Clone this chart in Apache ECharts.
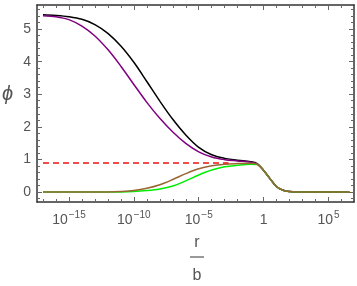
<!DOCTYPE html>
<html>
<head>
<meta charset="utf-8">
<script src="https://cdn.jsdelivr.net/npm/echarts@6/dist/echarts.min.js"></script>
<style>html,body{margin:0;padding:0;background:#fff;}#c{width:357px;height:286px;}</style>
</head>
<body>
<div id="c"></div>
<script>
// x values are log10(r/b)
const logR = [-17,-16,-15,-14,-13,-12,-11,-10,-9,-8,-7,-6,-5,-4,-3,-2,-1,-0.5,0,0.5,1,1.5,2,2.5,3,4,5,6,6.6];
const phiBlack  = [5.44,5.42,5.38,5.30,5.14,4.87,4.48,3.98,3.39,2.79,2.23,1.75,1.37,1.14,1.03,0.97,0.93,0.87,0.66,0.4,0.16,0.05,0.01,0,0,0,0,0,0];
const phiPurple = [5.41,5.38,5.29,5.09,4.79,4.37,3.86,3.30,2.75,2.26,1.84,1.49,1.23,1.07,0.99,0.95,0.91,0.86,0.66,0.4,0.16,0.05,0.01,0,0,0,0,0,0];
const phiGreen  = [0,0,0,0,0,0,0,0.01,0.04,0.09,0.18,0.34,0.52,0.67,0.77,0.82,0.85,0.84,0.66,0.4,0.16,0.05,0.01,0,0,0,0,0,0];
const phiBrown  = [0,0,0,0,0,0,0.01,0.04,0.11,0.22,0.38,0.56,0.71,0.80,0.85,0.87,0.88,0.85,0.66,0.4,0.16,0.05,0.01,0,0,0,0,0,0];
const refLogR = [-17, -2.7];
const refPhi = [0.89, 0.89];

const xMajor = [-15,-10,-5,0,5];
const xMinor = [-17,-16,-14,-13,-12,-11,-9,-8,-7,-6,-4,-3,-2,-1,1,2,3,4,6,7];
const yMajor = [0,1,2,3,4,5];
const yMinor = [-0.2,0.2,0.4,0.6,0.8,1.2,1.4,1.6,1.8,2.2,2.4,2.6,2.8,3.2,3.4,3.6,3.8,4.2,4.4,4.6,4.8,5.2,5.4,5.6];

const XMIN = -17.46, XMAX = 6.96, YMIN = -0.31, YMAX = 5.74;
const FONT = 'Liberation Sans, Arial, sans-serif';
const LBL = '#555';
const FRAME = '#333';

function zip(xs, ys){ return xs.map((x,i)=>[x, ys[i]]); }

function xAx(pos, major, label){
  return {
    type:'value', min:XMIN, max:XMAX, position:pos, gridIndex:0,
    axisLine:{show:major, onZero:false, lineStyle:{color:FRAME, width:1.5}},
    axisTick:{show:true, inside:true, length: major?5:3, customValues: major?xMajor:xMinor, lineStyle:{color:'#666', width:1}},
    axisLabel:{show:label, customValues:xMajor, margin:8, color:LBL, fontFamily:FONT,
      formatter: v => v===0 ? '{b|1}' : '{b|10}{s|' + (v<0?'\u2212':'') + Math.abs(v) + '}',
      rich:{ b:{fontSize:14, fontFamily:FONT, color:LBL, lineHeight:20},
             s:{fontSize:10, fontFamily:FONT, color:LBL, lineHeight:20, padding:[0,0,10,1]} }},
    splitLine:{show:false}
  };
}
function yAx(pos, major, label){
  return {
    type:'value', min:YMIN, max:YMAX, position:pos, gridIndex:0,
    axisLine:{show:major, onZero:false, lineStyle:{color:FRAME, width:1.5}},
    axisTick:{show:true, inside:true, length: major?5:3, customValues: major?yMajor:yMinor, lineStyle:{color:'#666', width:1}},
    axisLabel:{show:label, customValues:yMajor, margin:6, color:LBL, fontFamily:FONT, fontSize:14},
    splitLine:{show:false}
  };
}

const chart = echarts.init(document.getElementById('c'), null, {renderer:'canvas'});
function line(name, ys, color, xs){
  return { name, type:'line', xAxisIndex:0, yAxisIndex:0, data: zip(xs||logR, ys), showSymbol:false,
    smooth:0.35, lineStyle:{color, width:1.5}, itemStyle:{color}, animation:false };
}
chart.setOption({
  animation:false,
  grid:{left:37, right:3, top:5, bottom:84, containLabel:false},
  xAxis:[ xAx('bottom', true, true), xAx('bottom', false, false), xAx('top', true, false), xAx('top', false, false) ],
  yAxis:[ yAx('left', true, true), yAx('left', false, false), yAx('right', true, false), yAx('right', false, false) ],
  series:[
    line('black', phiBlack, '#000000'),
    line('purple', phiPurple, '#800080'),
    line('green', phiGreen, '#00ee00'),
    line('brown', phiBrown, '#996633'),
    { name:'ref', type:'line', data: zip(refLogR, refPhi), showSymbol:false, z:5,
      lineStyle:{color:'#ee1111', width:1.5, type:[6,4]}, animation:false }
  ],
  graphic:[
    { type:'text', left:2, top:84, style:{ text:'\u03D5', font:'italic 20px ' + FONT, fill:LBL } },
    { type:'text', x:197, y:243, style:{ text:'r', font:'16px ' + FONT, fill:LBL, align:'center', verticalAlign:'middle' } },
    { type:'line', shape:{x1:190, y1:257, x2:204, y2:257}, style:{stroke:LBL, lineWidth:1.2} },
    { type:'text', x:197, y:276, style:{ text:'b', font:'16px ' + FONT, fill:LBL, align:'center', verticalAlign:'middle' } }
  ]
});
</script>
</body>
</html>
